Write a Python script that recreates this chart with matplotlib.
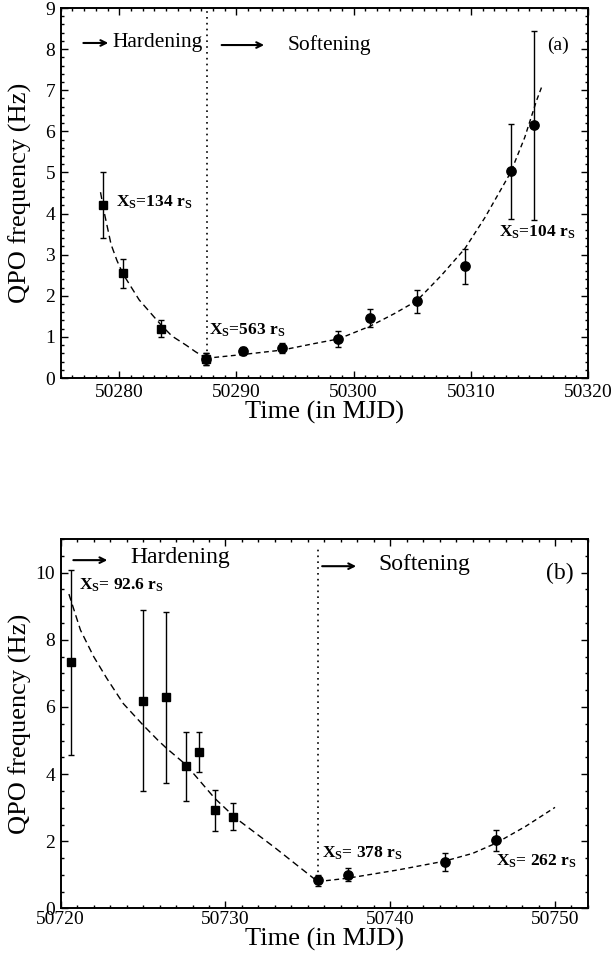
import matplotlib
matplotlib.use("Agg")
import matplotlib.pyplot as plt
from matplotlib.ticker import MultipleLocator

plt.rcParams["font.family"] = ["Liberation Serif", "DejaVu Serif"]
plt.rcParams["mathtext.fontset"] = "custom"
plt.rcParams["mathtext.rm"] = "Liberation Serif"
plt.rcParams["mathtext.bf"] = "Liberation Serif:bold"
plt.rcParams["mathtext.it"] = "Liberation Serif:italic"

# %% panel (a): hardening (squares) and softening (circles)
ha_t = [50278.6, 50280.3, 50283.6, 50287.4]
ha_f = [4.20, 2.55, 1.20, 0.47]
ha_err = [0.80, 0.35, 0.20, 0.15]

sa_t = [50287.4, 50290.6, 50293.9, 50298.7, 50301.4, 50305.4, 50309.5, 50313.4, 50315.4]
sa_f = [0.47, 0.66, 0.72, 0.95, 1.47, 1.87, 2.72, 5.03, 6.15]
sa_err = [0.15, 0.10, 0.12, 0.20, 0.22, 0.28, 0.43, 1.15, 2.30]

# dashed model curves
fit_ah_t = [50278.4, 50278.7, 50279.3, 50279.8, 50280.3, 50281.7, 50283.6, 50284.5,
            50285.7, 50286.5, 50287.4]
fit_ah_f = [4.52, 4.05, 3.25, 2.86, 2.54, 1.90, 1.28, 1.02, 0.80, 0.64, 0.48]
fit_as_t = [50287.4, 50290.5, 50293.9, 50296.5, 50298.7, 50301.4, 50303.5, 50305.4,
            50307.5, 50309.5, 50311.2, 50313.4, 50314.6, 50315.6, 50316.1]
fit_as_f = [0.48, 0.57, 0.68, 0.83, 0.95, 1.26, 1.57, 1.88, 2.50, 3.15, 3.90, 5.00,
            5.85, 6.74, 7.12]

# %% panel (b)
hb_t = [50720.6, 50725.0, 50726.4, 50727.6, 50728.4, 50729.35, 50730.45]
hb_f = [7.33, 6.19, 6.29, 4.23, 4.65, 2.92, 2.73]
hb_err = [2.75, 2.70, 2.55, 1.02, 0.60, 0.61, 0.40]

sb_t = [50735.6, 50737.45, 50743.35, 50746.4]
sb_f = [0.84, 1.01, 1.39, 2.03]
sb_err = [0.17, 0.19, 0.26, 0.32]

fit_bh_t = [50720.5, 50721.2, 50722.0, 50722.8, 50723.8, 50725.0, 50725.9, 50726.4,
            50727.6, 50729.35, 50730.6, 50733.0, 50735.6]
fit_bh_f = [9.36, 8.29, 7.50, 6.85, 6.10, 5.46, 5.01, 4.78, 4.28, 3.28, 2.70, 1.81, 0.80]
fit_bs_t = [50735.6, 50737.4, 50740.5, 50743.3, 50745.0, 50746.4, 50748.2, 50750.0]
fit_bs_f = [0.80, 0.90, 1.15, 1.41, 1.64, 1.94, 2.44, 3.01]

fig = plt.figure(figsize=(6.16, 9.57), dpi=100)
ax1 = fig.add_axes([0.0985, 0.605, 0.856, 0.3866])
ax2 = fig.add_axes([0.0985, 0.0507, 0.856, 0.3861])


def style_axis(ax, xmaj, ymaj, ymin, xpad):
    ax.xaxis.set_major_locator(MultipleLocator(xmaj))
    ax.xaxis.set_minor_locator(MultipleLocator(1))
    ax.yaxis.set_major_locator(MultipleLocator(ymaj))
    ax.yaxis.set_minor_locator(MultipleLocator(ymin))
    ax.tick_params(which="both", direction="in", top=True, right=True, width=1.0)
    ax.tick_params(which="major", length=5, labelsize=14)
    ax.tick_params(which="minor", length=2.5)
    ax.tick_params(axis="x", pad=xpad)
    ax.tick_params(axis="y", pad=4)
    for sp in ax.spines.values():
        sp.set_linewidth(1.4)
    ax.set_xlabel("Time (in MJD)", fontsize=19, labelpad=0)
    ax.set_ylabel("QPO frequency (Hz)", fontsize=19)
    # same left offset for both panels
    ax.yaxis.set_label_coords(-0.054, 0.5)


def draw_points(ax, t, f, err, marker, ms):
    ax.errorbar(t, f, yerr=err, fmt=marker, color="black", ms=ms, elinewidth=1,
                capsize=2, capthick=1)


bold = dict(fontsize=12.5, fontweight="bold")

# ---- (a)
draw_points(ax1, ha_t, ha_f, ha_err, "s", 5.3)
draw_points(ax1, sa_t, sa_f, sa_err, "o", 6.7)
ax1.plot(fit_ah_t, fit_ah_f, color="black", lw=1, dashes=(5, 3))
ax1.plot(fit_as_t, fit_as_f, color="black", lw=1, dashes=(3.5, 2.5))
ax1.vlines(50287.5, 0.5, 9, colors="black", linestyles=(0, (1, 2.5)), lw=1.2)

ax1.annotate("", xy=(50279.3, 8.15), xytext=(50276.7, 8.15),
             arrowprops=dict(arrowstyle="->", lw=1.5, color="black"))
ax1.text(50279.4, 8.15, "Hardening", fontsize=15.5, va="center")
ax1.annotate("", xy=(50292.6, 8.1), xytext=(50288.5, 8.1),
             arrowprops=dict(arrowstyle="->", lw=1.5, color="black"))
ax1.text(50294.4, 8.1, "Softening", fontsize=15.5, va="center")
ax1.text(50317.4, 8.1, "(a)", fontsize=14, va="center", ha="center")

ax1.text(50279.75, 4.18, r"X$_\mathbf{S}$=134 r$_\mathbf{S}$", **bold)
ax1.text(50287.7, 1.06, r"X$_\mathbf{S}$=563 r$_\mathbf{S}$", **bold)
ax1.text(50312.4, 3.44, r"X$_\mathbf{S}$=104 r$_\mathbf{S}$", **bold)

ax1.set_xlim(50275, 50320)
ax1.set_ylim(0, 9)
style_axis(ax1, 10, 1, 0.2, 4)

# ---- (b)
draw_points(ax2, hb_t, hb_f, hb_err, "s", 5.3)
draw_points(ax2, sb_t, sb_f, sb_err, "o", 6.7)
ax2.plot(fit_bh_t, fit_bh_f, color="black", lw=1, dashes=(5, 3))
ax2.plot(fit_bs_t, fit_bs_f, color="black", lw=1, dashes=(3.5, 2.5))
ax2.vlines(50735.6, 0.9, 10.7, colors="black", linestyles=(0, (1, 2.5)), lw=1.2)

ax2.annotate("", xy=(50723.0, 10.37), xytext=(50720.6, 10.37),
             arrowprops=dict(arrowstyle="->", lw=1.5, color="black"))
ax2.text(50724.2, 10.45, "Hardening", fontsize=17, va="center")
ax2.annotate("", xy=(50738.1, 10.19), xytext=(50735.7, 10.19),
             arrowprops=dict(arrowstyle="->", lw=1.5, color="black"))
ax2.text(50739.25, 10.24, "Softening", fontsize=17, va="center")
ax2.text(50750.3, 9.97, "(b)", fontsize=17, va="center", ha="center")

ax2.text(50721.1, 9.48, r"X$_\mathbf{S}$= 92.6 r$_\mathbf{S}$", **bold)
ax2.text(50735.86, 1.52, r"X$_\mathbf{S}$= 378 r$_\mathbf{S}$", **bold)
ax2.text(50746.4, 1.27, r"X$_\mathbf{S}$= 262 r$_\mathbf{S}$", **bold)

ax2.set_xlim(50720, 50752)
ax2.set_ylim(0, 11)
style_axis(ax2, 10, 2, 0.5, 1.5)

# the "0" label sits just above the 50720 label in the original
fig.canvas.draw()
ax2.get_yticklabels()[0].set_verticalalignment("baseline")

fig.savefig("out.png", dpi=100)
